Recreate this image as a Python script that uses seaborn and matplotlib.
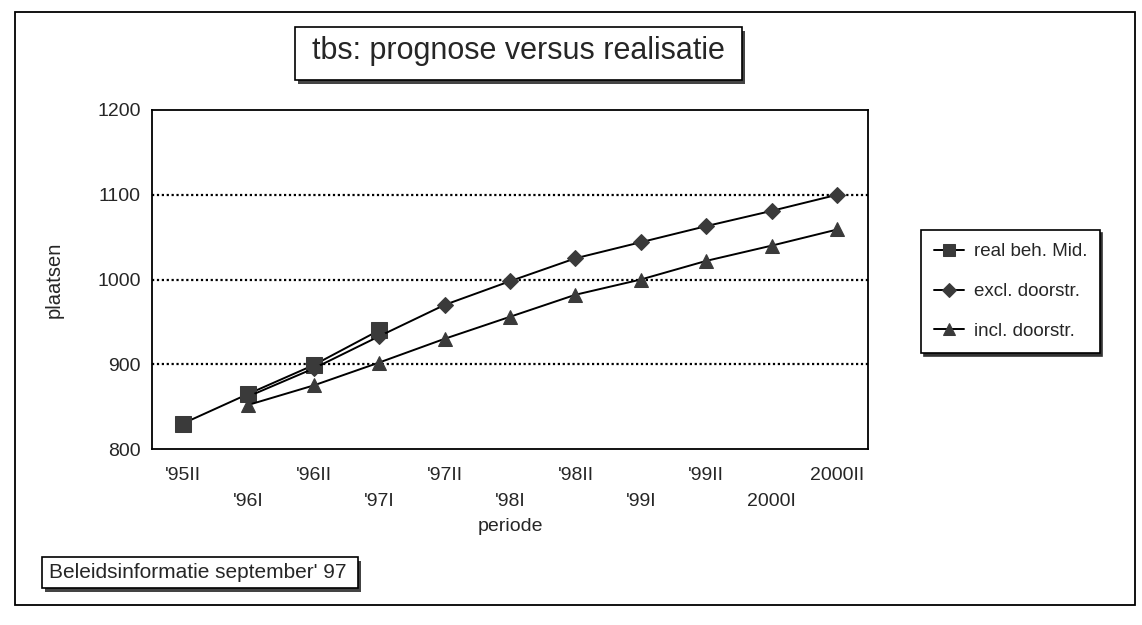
"""tbs: prognose versus realisatie - line chart with three series."""
import matplotlib
matplotlib.use("Agg")
import matplotlib.pyplot as plt
from matplotlib.patches import Rectangle
import numpy as np
import pandas as pd
import seaborn as sns

periods = ["'95II", "'96I", "'96II", "'97I", "'97II", "'98I",
           "'98II", "'99I", "'99II", "2000I", "2000II"]
real_mid = [830, 865, 899, 940]                                      # '95II .. '97I
excl_door = [862, 895, 933, 970, 998, 1025, 1044, 1063, 1081, 1100]  # '96I .. 2000II
incl_door = [852, 875, 902, 930, 956, 982, 1000, 1022, 1040, 1059]   # '96I .. 2000II
series_names = ["real beh. Mid.", "excl. doorstr.", "incl. doorstr."]

rows = []
for i, v in enumerate(real_mid):
    rows.append((i, v, series_names[0]))
for i, v in enumerate(excl_door):
    rows.append((i + 1, v, series_names[1]))
for i, v in enumerate(incl_door):
    rows.append((i + 1, v, series_names[2]))
df = pd.DataFrame(rows, columns=["idx", "plaatsen", "serie"])

sns.set_style("white")
plt.rcParams["font.family"] = ["Liberation Sans", "DejaVu Sans"]

W, H = 1142, 625
fig = plt.figure(figsize=(W / 100, H / 100), dpi=100)
ax = fig.add_axes([152 / W, 1 - 449 / H, 716 / W, 339 / H])

markers = {series_names[0]: "s", series_names[1]: "D", series_names[2]: "^"}
msize = {series_names[0]: 11, series_names[1]: 8, series_names[2]: 10}
for name in series_names:
    sub = df[df["serie"] == name]
    sns.lineplot(data=sub, x="idx", y="plaatsen", ax=ax, color="black", lw=1.4,
                 marker=markers[name], markersize=msize[name],
                 markerfacecolor="#3a3a3a", markeredgecolor="#3a3a3a",
                 label=name, zorder=3)

ax.set_xlim(-0.47, 10.47)
ax.set_ylim(800, 1200)
ax.set_yticks([800, 900, 1000, 1100, 1200])
for g in [900, 1000, 1100]:
    ax.axhline(g, color="black", lw=1.6, ls=(0, (1, 1.2)), zorder=1)

ax.set_xticks(np.arange(len(periods)))
ax.set_xticklabels([p if i % 2 == 0 else "\n" + p for i, p in enumerate(periods)],
                   fontsize=14, linespacing=1.65)
ax.tick_params(axis="x", direction="in", length=7, width=1.2, color="black", pad=13)
ax.tick_params(axis="y", length=0, labelsize=14, pad=8)
ax.set_xlabel("periode", fontsize=14, labelpad=6)
ax.set_ylabel("plaatsen", fontsize=14.5, labelpad=24)
for s in ax.spines.values():
    s.set_color("black")
    s.set_linewidth(1.3)

leg = ax.legend(loc="center", bbox_to_anchor=(912 / W, 1 - 355 / H, 197 / W, 127 / H),
                bbox_transform=fig.transFigure, mode="expand", fontsize=13.5,
                frameon=True, fancybox=False, shadow={"color": "#333333", "alpha": 1},
                edgecolor="black", handlelength=1.6, borderpad=0.7, labelspacing=1.2,
                handletextpad=0.5, markerscale=0.85)
leg.get_frame().set_linewidth(1.2)

# outer frame of the chart
fig.patches.append(Rectangle((15 / W, 1 - 605 / H), 1120 / W, 593 / H,
                             transform=fig.transFigure, fill=False,
                             edgecolor="black", lw=1.3))


def framed_text(x0, y0, x1, y1, txt, size, left=None):
    # shadow strip, box and text, all in pixel coordinates from the top-left
    fig.patches.append(Rectangle(((x0 + 3) / W, 1 - (y1 + 4) / H), (x1 - x0) / W,
                                 (y1 - y0) / H, transform=fig.transFigure,
                                 fc="#444444", ec="none", zorder=1))
    fig.patches.append(Rectangle((x0 / W, 1 - y1 / H), (x1 - x0) / W, (y1 - y0) / H,
                                 transform=fig.transFigure, fc="white",
                                 ec="black", lw=1.2, zorder=2))
    if left is None:
        fig.text((x0 + x1) / 2 / W, 1 - ((y0 + y1) / 2 - 2) / H, txt, fontsize=size,
                 ha="center", va="center", zorder=3)
    else:
        fig.text(left / W, 1 - (y0 + y1) / 2 / H, txt, fontsize=size,
                 ha="left", va="center", zorder=3)


framed_text(295, 27, 742, 80, "tbs: prognose versus realisatie", 22)
framed_text(42, 557, 358, 588, "Beleidsinformatie september' 97", 15, left=49)

fig.savefig("out.png", dpi=100)
